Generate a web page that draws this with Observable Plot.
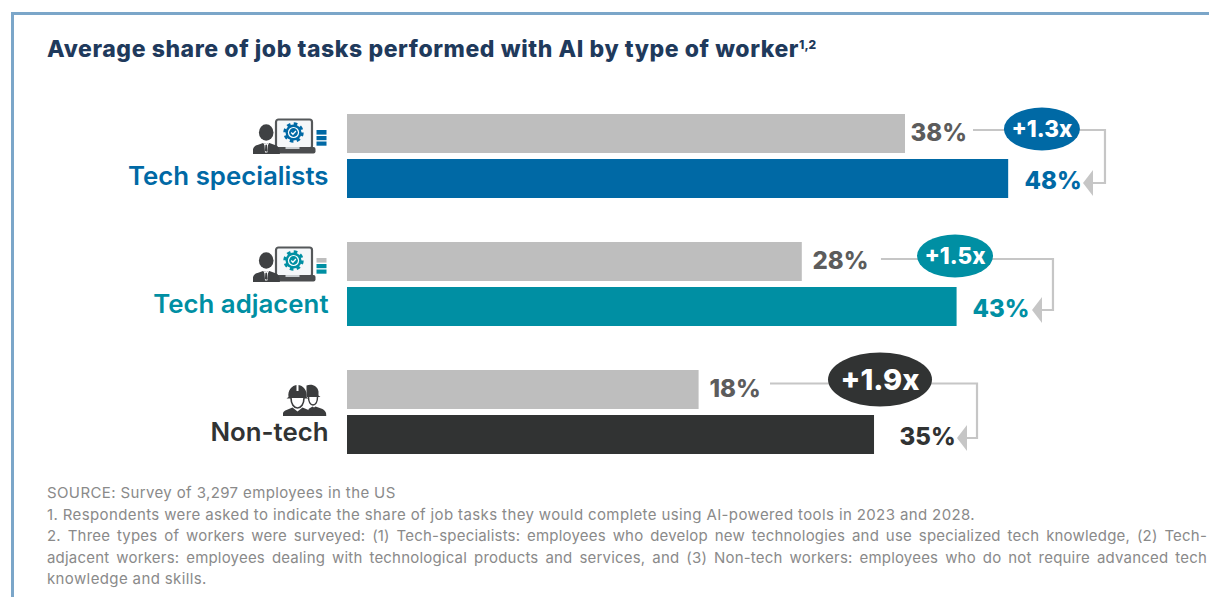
<!DOCTYPE html>
<html>
<head>
<meta charset="utf-8">
<script src="https://cdn.jsdelivr.net/npm/d3@7"></script>
<script src="https://cdn.jsdelivr.net/npm/@observablehq/plot@0.6"></script>
<style>
  html, body { margin: 0; padding: 0; background: #fff; overflow: hidden; }
  #frame { position: relative; width: 1209px; height: 597px; overflow: hidden; }
  #frame::before { content: ""; position: absolute; left: 11px; top: 12px; right: -4px; bottom: -4px;
    border-top: 3px solid #7ba6c9; border-left: 3px solid #7ba6c9; }
  #title { position: relative; height: 90px; box-sizing: border-box; padding: 36px 0 0 47px;
    font: 800 23px/26px Inter, sans-serif; letter-spacing: 0.58px; color: #1f3a5c; white-space: nowrap; }
  #title sup { font-size: 12px; line-height: 0; vertical-align: 8px; letter-spacing: 0; }
  #chart { position: relative; height: 380px; }
  #chart svg { display: block; }
  #notes { position: relative; margin: 12px 0 0 47px; width: 1160px;
    font: 400 15px/21.6px Inter, sans-serif; letter-spacing: 0.38px; color: #8a8a8a; }
  #notes div { white-space: nowrap; }
  #notes .full { white-space: normal; text-align: justify; text-align-last: justify; letter-spacing: 0.2px; }
</style>
</head>
<body>
<div id="frame">
  <div id="title">Average share of job tasks performed with AI by type of worker<sup>1,2</sup></div>
  <div id="chart"></div>
  <div id="notes">
    <div>SOURCE: Survey of 3,297 employees in the US</div>
    <div>1. Respondents were asked to indicate the share of job tasks they would complete using AI-powered tools in 2023 and 2028.</div>
    <div class="full">2. Three types of workers were surveyed: (1) Tech-specialists: employees who develop new technologies and use specialized tech knowledge, (2) Tech-</div>
    <div class="full">adjacent workers: employees dealing with technological products and services, and (3) Non-tech workers: employees who do not require advanced tech</div>
    <div>knowledge and skills.</div>
  </div>
</div>
<script>
// Survey values
const groups = ["Tech specialists", "Tech adjacent", "Non-tech"];
const share2023 = [38, 28, 18];
const share2028 = [48, 43, 35];
const multipliers = ["+1.3x", "+1.5x", "+1.9x"];

// Group colours
const groupColors = ["#0069a5", "#008fa3", "#313333"];
const priorColor = "#bebebe";
const priorText = "#5c5c5c";
const connectorColor = "#c6c6c6";

// Annotation placement, all in x-scale units
const labelAt2023 = [38.48, 28.99, 19.01];
const labelAt2028 = [49.53, 44.49, 37.42];
const connectorStart = [44.59, 35.67, 24.92];
const connectorBend = [57.38, 52.34, 44.98];
const arrowTip = [55.25, 50.31, 43.04];
const badgeAt = [51.27, 42.85, 35.58];

// Bars start from this axis value; the axis is not zero-based
const axisBase = -16.07;
const axisMax = 67.46;

const rows = groups.flatMap((group, i) => [
  {group, year: 2023, share: share2023[i], labelAt: labelAt2023[i], fill: priorColor, ink: priorText},
  {group, year: 2028, share: share2028[i], labelAt: labelAt2028[i], fill: groupColors[i], ink: groupColors[i]}
]);

const notes = groups.map((group, i) => ({
  group, color: groupColors[i], text: multipliers[i],
  start: connectorStart[i], bend: connectorBend[i], tip: arrowTip[i], badge: badgeAt[i]
}));

// Vertical nudges and badge sizes for the connector annotations
const noteStyle = [
  {top: -3.5, bottom: 4.5, badgeDy: -4.5, rx: 38, ry: 21.5, size: 22.5},
  {top: -2.5, bottom: 3.5, badgeDy: -5.5, rx: 38, ry: 21.5, size: 22.5},
  {top: -6, bottom: 3.5, badgeDy: -10, rx: 52, ry: 27, size: 29}
];

// Worker icons, as small inline vector images
function techIcon(main, topBar) {
  const svg = `<svg xmlns="http://www.w3.org/2000/svg" width="76" height="38" viewBox="0 0 76 38">
    <rect x="23.500" y="1.500" width="36" height="29" rx="2.500" fill="#f5f7f9" stroke="#55585a" stroke-width="2.200"/>
    <rect x="24" y="29" width="39" height="6.500" rx="2" fill="#4b4d4f"/>
    <rect x="33" y="29" width="14" height="2" fill="#c9cdd0"/>
    <circle cx="41" cy="14.500" r="8.800" fill="none" stroke="${main}" stroke-width="2.800" stroke-dasharray="3.600 3.310"/>
    <circle cx="41" cy="14.500" r="8" fill="${main}"/>
    <circle cx="41" cy="14.500" r="5.600" fill="#fff"/>
    <circle cx="41" cy="14.500" r="4.400" fill="${main}"/>
    <path d="M38.700 14.500l1.700 1.700 3-3.200" fill="none" stroke="#fff" stroke-width="1.300"/>
    <ellipse cx="13.700" cy="14.500" rx="7.300" ry="8.300" fill="#3f4143"/>
    <path d="M0 36c0-5 1-8 5-9l5.500-2 3.200 1 3.200-1 5.500 2c4 1 5 4 5 9z" fill="#3f4143"/>
    <path d="M10.800 24.800l2.900 1.600 2.900-1.600-1.200 2.600-.5 7h-2.400l-.5-7z" fill="#fff"/>
    <path d="M12.900 27h1.600l.5 5.500-1.300 1.500-1.300-1.500z" fill="#3f4143"/>
    <rect x="64" y="12" width="10" height="4.600" fill="${topBar}"/>
    <rect x="64" y="18" width="10" height="4.200" fill="${main}"/>
    <rect x="64" y="23.500" width="10" height="4.200" fill="${main}"/>
  </svg>`;
  return "data:image/svg+xml," + encodeURIComponent(svg);
}

function crewIcon() {
  const ink = "#3b3c3d";
  const svg = `<svg xmlns="http://www.w3.org/2000/svg" width="44" height="34" viewBox="0 0 44 34">
    <path d="M24 2.500c5-2 11 0 12 6l0 4 2 1.500h-14z" fill="${ink}"/>
    <path d="M26 14c0 5 2 8 4.500 8s4.500-3 4.500-8" fill="#fff" stroke="${ink}" stroke-width="1.500"/>
    <path d="M26 33l0-7 4-2.500 1.500 1 1.500-1 7 2.500c2 1 4 3 4 7z" fill="${ink}"/>
    <path d="M6 14c-1-6 3-12 9-12s10 6 9 12l2 1.500H4z" fill="${ink}"/>
    <path d="M8.500 15c0 6 3 10 6.500 10s6.500-4 6.500-10" fill="#fff" stroke="${ink}" stroke-width="1.600"/>
    <path d="M0 33c0-3 1-5 4-6l6-2.500 5 4 5-4 6 2.500c3 1 4 3 4 6z" fill="${ink}"/>
    <path d="M14 2v6h2V2z" fill="#fff"/>
  </svg>`;
  return "data:image/svg+xml," + encodeURIComponent(svg);
}

const techIcons = [
  {group: groups[0], src: techIcon(groupColors[0], groupColors[0])},
  {group: groups[1], src: techIcon(groupColors[1], priorColor)}
];
const crewIcons = [{group: groups[2], src: crewIcon()}];

// Connector elbow, arrowhead and multiplier badge for one group
function drawNotes(index, scales) {
  const g = d3.create("svg:g");
  const bw = scales.scales?.y?.bandwidth ?? 39;
  for (const i of index) {
    const d = notes[i];
    const s = noteStyle[i];
    const yTop = scales.y(2023) + bw / 2 + s.top;
    const yBottom = scales.y(2028) + bw / 2 + s.bottom;
    const tip = scales.x(d.tip);
    const bend = scales.x(d.bend);
    g.append("path")
      .attr("d", `M${scales.x(d.start)},${yTop}H${bend}V${yBottom}H${tip + 8}`)
      .attr("fill", "none").attr("stroke", connectorColor).attr("stroke-width", 2.2);
    g.append("path")
      .attr("d", `M${tip},${yBottom}L${tip + 10},${yBottom - 13}V${yBottom + 13}Z`)
      .attr("fill", connectorColor);
    const cy = scales.y(2023) + bw / 2 + s.badgeDy;
    g.append("ellipse")
      .attr("cx", scales.x(d.badge)).attr("cy", cy)
      .attr("rx", s.rx).attr("ry", s.ry).attr("fill", d.color);
    g.append("text")
      .attr("x", scales.x(d.badge)).attr("y", cy)
      .attr("text-anchor", "middle").attr("dy", "0.36em")
      .attr("fill", "#fff").attr("font-family", "Inter, sans-serif")
      .attr("font-weight", 800).attr("font-size", s.size)
      .text(d.text);
  }
  return g.node();
}

const valueLabel = {
  x: "labelAt", y: "year", fy: "group", text: d => `${d.share}%`,
  fill: d => d.ink, textAnchor: "start",
  fontFamily: "Inter, sans-serif", fontWeight: 800, fontSize: 24
};

const chart = Plot.plot({
  width: 1209,
  height: 380,
  marginLeft: 0,
  marginRight: 0,
  marginTop: 24,
  marginBottom: 16,
  x: {domain: [axisBase, axisMax], range: [347, 1209], axis: null},
  y: {domain: [2023, 2028], axis: null, paddingInner: 6 / 45, paddingOuter: 0, round: false},
  fy: {domain: groups, axis: null, paddingInner: 44 / 128, paddingOuter: 0, round: false, label: null},
  marks: [
    Plot.barX(rows, {
      x1: () => axisBase, x2: "share", y: "year", fy: "group",
      fill: d => d.fill
    }),
    Plot.text(rows.filter(d => d.year === 2023), {...valueLabel, dy: -1}),
    Plot.text(rows.filter(d => d.year === 2028), {...valueLabel, dy: 2.5}),
    Plot.text(notes, {
      x: () => axisBase, y: () => 2028, fy: "group", text: "group",
      fill: "color", textAnchor: "end", dx: -19, dy: -2,
      fontFamily: "Inter, sans-serif", fontWeight: 600, fontSize: 25.8
    }),
    Plot.dot(notes, {x: "badge", y: () => 2023, fy: "group", render: drawNotes}),
    Plot.image(techIcons, {
      x: () => axisBase, y: () => 2023, fy: "group", src: "src",
      width: 76, height: 38, dx: -57, dy: 3
    }),
    Plot.image(crewIcons, {
      x: () => axisBase, y: () => 2023, fy: "group", src: "src",
      width: 44, height: 34, dx: -43, dy: 10
    })
  ]
});
document.getElementById("chart").append(chart);
</script>
</body>
</html>
